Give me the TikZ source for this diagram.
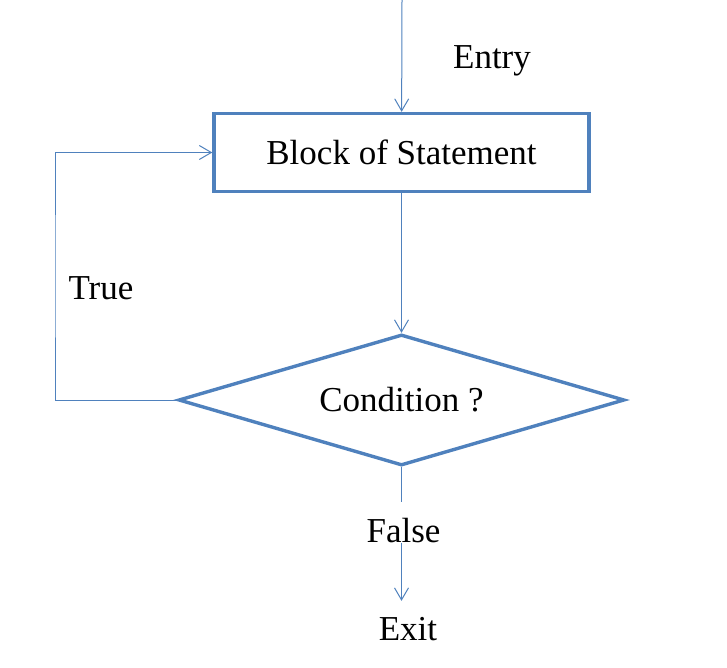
\documentclass[tikz,border=0pt]{standalone}
\usepackage{fontspec}
\setmainfont{Liberation Serif}
\usetikzlibrary{shapes.geometric,arrows.meta}
\definecolor{lineblue}{RGB}{79,129,189}

\begin{document}
\begin{tikzpicture}[x=0.5pt,y=-0.5pt,font=\fontsize{17.5}{21}\selectfont,
  flow/.style={lineblue,line width=0.5pt,-{Straight Barb[length=6pt,width=7pt]}},
  plain/.style={lineblue,line width=0.5pt},
  blockbox/.style={draw=lineblue,line width=1.7pt,rectangle,minimum width=187.5pt,minimum height=39pt},
  testbox/.style={draw=lineblue,line width=1.7pt,diamond,aspect=3.4,inner sep=0pt,minimum width=223pt,minimum height=65.5pt},
  lbl/.style={inner sep=8pt}]
\useasboundingbox (0,0) rectangle (727,668);
\coordinate (start) at (402,0);
\node[blockbox] (block) at (401.5,152.5) {Block of Statement};
\node[testbox] (cond) at (401.5,400) {Condition ?};
\node[lbl] (entry) at (492,61) {Entry};
\node[lbl] (true) at (101,288) {True};
\node[lbl] (false) at (403.5,531) {False};
\node[lbl] (exit) at (408,629) {Exit};
\coordinate (back) at (55,276);
\draw[flow] (start) -- (block);
\draw[flow] (block) -- (cond);
\draw[flow] (cond.west) -| (back) |- (block.west);
\draw[plain] (cond.south) -- (cond.south |- false.north);
\draw[flow] (cond.south |- false.base) -- (cond.south |- exit.north);
\end{tikzpicture}
\end{document}
